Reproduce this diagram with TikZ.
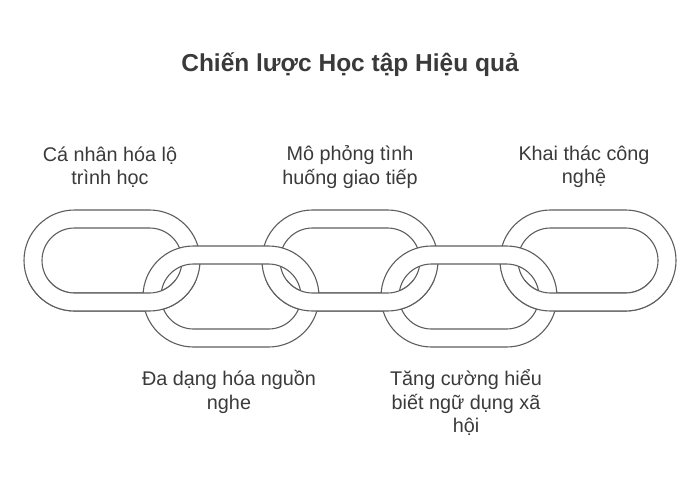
\documentclass[tikz,border=0pt]{standalone}
\usepackage{fontspec}
\setmainfont{Liberation Sans}
\definecolor{linkgray}{HTML}{5E5E5E}
\definecolor{txtgray}{HTML}{3A3A3A}
\begin{document}
\begin{tikzpicture}[x=1pt, y=-1pt,
    linkband/.style={draw=linkgray, line width=1.1pt, fill=white, even odd rule},
    lbl/.style={text=txtgray, font=\fontsize{19.8}{23.5}\selectfont, align=center}]
        \useasboundingbox (0,0) rectangle (700,486);
        \node[text=txtgray, font=\bfseries\fontsize{24.5}{29}\selectfont] (title) at (350,65) {Chiến lược Học tập Hiệu quả};
        % upper links
        \foreach \cx/\nm in {112/l1, 350/l3, 588/l5} {
            \coordinate (\nm) at (\cx,260.5);
            \path[linkband] [rounded corners=50.5pt] (\cx-88,210) rectangle (\cx+88,311)
                [rounded corners=32.5pt] (\cx-70,228) rectangle (\cx+70,293);
        }
        % lower links
        \foreach \cx/\nm in {231/l2, 469/l4} {
            \coordinate (\nm) at (\cx,296.5);
            \path[linkband] [rounded corners=50.5pt] (\cx-88,246) rectangle (\cx+88,347)
                [rounded corners=32.5pt] (\cx-70,264) rectangle (\cx+70,329);
        }
        % upper links again, over the lower ones at the bottom
        \begin{scope}
            \clip (0,280) rectangle (700,486);
            \foreach \cx in {112, 350, 588} {
                \path[linkband] [rounded corners=50.5pt] (\cx-88,210) rectangle (\cx+88,311)
                    [rounded corners=32.5pt] (\cx-70,228) rectangle (\cx+70,293);
            }
        \end{scope}
        % labels
        \node[lbl] (t1) at (110,167) {Cá nhân hóa lộ\\trình học};
        \node[lbl] (t3) at (350,167) {Mô phỏng tình\\huống giao tiếp};
        \node[lbl] (t5) at (584,167) {Khai thác công\\nghệ};
        \node[lbl] (t2) at (229,392) {Đa dạng hóa nguồn\\nghe};
        \node[lbl] (t4) at (466,403) {Tăng cường hiểu\\biết ngữ dụng xã\\hội};
\end{tikzpicture}
\end{document}
